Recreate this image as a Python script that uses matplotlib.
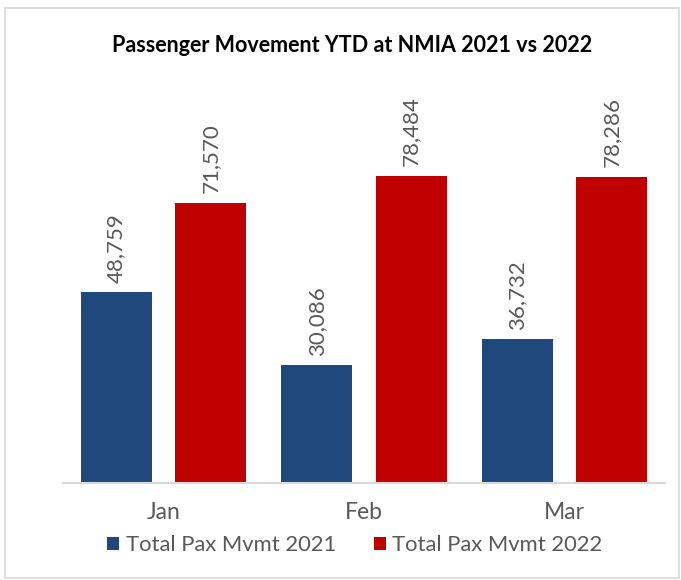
#!/usr/bin/env python3
import matplotlib.pyplot as plt
from matplotlib.patches import Rectangle
import numpy as np

months = ["Jan", "Feb", "Mar"]
pax_2021 = [48759, 30086, 36732]
pax_2022 = [71570, 78484, 78286]
series_names = ["Total Pax Mvmt 2021", "Total Pax Mvmt 2022"]

BLUE = "#1F497D"
RED = "#C00000"
GRAY_TEXT = "#595959"

plt.rcParams["font.family"] = ["Lato", "DejaVu Sans"]

fig = plt.figure(figsize=(6.81, 5.8), dpi=100)
fig.patches.append(Rectangle((5 / 681, 0.003), 0.99, 1 - 8 / 580 - 0.003,
                             transform=fig.transFigure, fill=False,
                             edgecolor="#D9D9D9", linewidth=1.2))

ax = fig.add_axes([63 / 681, 1 - 483 / 580, 602 / 681, 352 / 580])

x = np.arange(len(months))
w = 0.355
off = 0.235
b1 = ax.bar(x - off, pax_2021, w, color=BLUE, label=series_names[0])
b2 = ax.bar(x + off, pax_2022, w, color=RED, label=series_names[1])

for bars in (b1, b2):
    for rect in bars:
        h = rect.get_height()
        ax.annotate(f"{h:,.0f}", (rect.get_x() + rect.get_width() / 2, h),
                    xytext=(0, 7), textcoords="offset points",
                    rotation=90, ha="center", va="bottom",
                    fontsize=16, color=GRAY_TEXT)

ax.set_xlim(-0.5, 2.5)
ax.set_ylim(0, 90000)
ax.set_xticks(x)
ax.set_xticklabels(months, fontsize=16.5, color=GRAY_TEXT)
ax.tick_params(axis="x", length=0, pad=14)
ax.set_yticks([])
for s in ["top", "right", "left"]:
    ax.spines[s].set_visible(False)
ax.spines["bottom"].set_color("#D9D9D9")
ax.spines["bottom"].set_linewidth(1.5)

fig.text(352 / 681, 1 - 45 / 580, "Passenger Movement YTD at NMIA 2021 vs 2022",
         ha="center", va="center", fontsize=15.5, fontweight="bold", color="black")

leg = fig.legend(handles=[b1, b2], loc="center", bbox_to_anchor=(355 / 681, 1 - 545 / 580),
                 ncol=2, frameon=False, fontsize=15.8, handlelength=0.55, handleheight=0.55,
                 handletextpad=0.3, columnspacing=1.7)
for t in leg.get_texts():
    t.set_color(GRAY_TEXT)

fig.savefig("out.png", dpi=100)
